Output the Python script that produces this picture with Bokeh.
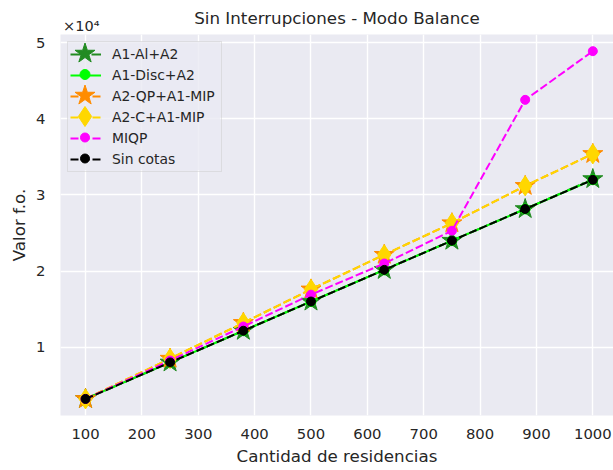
from bokeh.plotting import figure
from bokeh.models import Range1d, FixedTicker, LinearAxis
from bokeh.embed import file_html
from bokeh.resources import INLINE

# ---- data ----
n_res = [100, 250, 380, 500, 630, 750, 880, 1000]
a1_al_a2 = [3200, 8000, 12160, 16000, 20160, 24000, 28160, 32100]
a1_disc_a2 = [3200, 8000, 12160, 16000, 20160, 24000, 28160, 32000]
a2_qp_a1_mip = [3200, 8500, 13200, 17600, 22150, 26300, 31200, 35400]
a2_c_a1_mip = [3200, 8500, 13200, 17600, 22150, 26300, 31200, 35400]
miqp = [3200, 8250, 12720, 16900, 21000, 25300, 42500, 48900]
sin_cotas = [3200, 8000, 12160, 16000, 20160, 24000, 28160, 32000]

series_names = ["A1-Al+A2", "A1-Disc+A2", "A2-QP+A1-MIP", "A2-C+A1-MIP", "MIQP", "Sin cotas"]
series_values = [a1_al_a2, a1_disc_a2, a2_qp_a1_mip, a2_c_a1_mip, miqp, sin_cotas]

x_ticks = [100, 200, 300, 400, 500, 600, 700, 800, 900, 1000]
y_ticks = [10000, 20000, 30000, 40000, 50000]
y_tick_labels = ["1", "2", "3", "4", "5"]

title_text = "Sin Interrupciones - Modo Balance"
x_label = "Cantidad de residencias"
y_label = "Valor f.o."
offset_text = "\u00d710\u2074"

# ---- styles / layout ----
colors = ["#228B22", "#00FF00", "#FF8C00", "#FFD700", "#FF00FF", "#000000"]
dashes = ["13 3 2 3", "solid", "8 3", "8 3", "8 3", "8 3"]
markers = ["star", "circle", "star", "diamond", "circle", "circle"]
msizes = [21, 10, 21, 20, 9, 9]

TXT = "#262626"
FONT = "DejaVu Sans"
PLOT_BG = "#EAEAF2"
W, H = 613, 470
FRAME_L, FRAME_T, BORDER_B = 60, 34, 55
X0, X1 = 55.6, 1036.7
Y0, Y1 = 1025, 51090
OFFSET_TICK = 92.5  # where the x10^4 text is centred (x data units)

p = figure(width=W, height=H,
           x_range=Range1d(X0, X1), y_range=Range1d(Y0, Y1),
           output_backend="svg", toolbar_location=None,
           min_border_left=FRAME_L, min_border_right=0,
           min_border_top=FRAME_T, min_border_bottom=BORDER_B,
           background_fill_color=PLOT_BG, border_fill_color="white",
           outline_line_color=None)


def style_axis(ax):
    ax.axis_line_color = None
    ax.major_tick_line_color = None
    ax.minor_tick_line_color = None
    ax.major_tick_out = 0
    ax.major_tick_in = 0
    ax.major_label_text_font = FONT
    ax.major_label_text_font_size = "14.8px"
    ax.major_label_text_color = TXT
    ax.axis_label_text_font = FONT
    ax.axis_label_text_font_size = "16.7px"
    ax.axis_label_text_font_style = "normal"
    ax.axis_label_text_color = TXT


xa = p.xaxis[0]
style_axis(xa)
xa.ticker = FixedTicker(ticks=x_ticks)
xa.major_label_standoff = 13
xa.axis_label = x_label
xa.axis_label_standoff = 4

ya = p.yaxis[0]
style_axis(ya)
ya.ticker = FixedTicker(ticks=y_ticks)
ya.major_label_overrides = {t: l for t, l in zip(y_ticks, y_tick_labels)}
ya.major_label_standoff = 15
ya.axis_label = y_label
ya.axis_label_standoff = 4

# top axis: carries the x10^4 offset text (as a tick label) and the title
ta = LinearAxis(ticker=FixedTicker(ticks=[OFFSET_TICK]),
                major_label_overrides={OFFSET_TICK: offset_text})
style_axis(ta)
ta.major_label_text_font_size = "14.5px"
ta.major_label_standoff = 1
ta.axis_label = title_text
ta.axis_label_standoff = -13
p.add_layout(ta, "above")

p.xgrid.grid_line_color = "white"
p.ygrid.grid_line_color = "white"
p.xgrid.grid_line_width = 1.4
p.ygrid.grid_line_width = 1.4

# legend geometry (pixels)
LEG_MARGIN, LEG_PAD, GLYPH_W, ROW_H, ROW_GAP = 7, 2, 31, 20, 1
LABEL_STANDOFF, LABEL_W = 11, 107
n_items = len(series_names)
kx = (W - FRAME_L) / (X1 - X0)
ky = (H - FRAME_T - BORDER_B) / (Y1 - Y0)


def dx(px):
    return X0 + (px - FRAME_L) / kx


def dy(py):
    return Y1 - (py - FRAME_T) / ky


leg_l = FRAME_L + LEG_MARGIN
leg_t = FRAME_T + LEG_MARGIN
leg_w = 2 * LEG_PAD + GLYPH_W + LABEL_STANDOFF + LABEL_W
leg_h = 2 * LEG_PAD + n_items * ROW_H + (n_items - 1) * ROW_GAP

# legend background (drawn under the legend's samples and markers)
p.quad(left=[dx(leg_l)], right=[dx(leg_l + leg_w)], top=[dy(leg_t)], bottom=[dy(leg_t + leg_h)],
       fill_color=PLOT_BG, fill_alpha=0.8, line_color=None)

for name, vals, c, d, m, s in zip(series_names, series_values, colors, dashes, markers, msizes):
    p.line(n_res, vals, line_color=c, line_width=2, line_dash=d, legend_label=name)
    p.scatter(n_res, vals, marker=m, size=s, fill_color=c, line_color=c, line_width=1)

lg = p.legend[0]
lg.location = "top_left"
lg.margin = LEG_MARGIN
lg.padding = LEG_PAD
lg.spacing = ROW_GAP
lg.glyph_width = GLYPH_W
lg.glyph_height = ROW_H
lg.label_height = ROW_H
lg.label_width = LABEL_W
lg.label_standoff = LABEL_STANDOFF
lg.label_text_font = FONT
lg.label_text_font_size = "13.9px"
lg.label_text_color = TXT
lg.background_fill_alpha = 0
lg.border_line_color = "#CCCCCC"
lg.border_line_width = 1

# full-size markers for the legend samples
cx = leg_l + LEG_PAD + GLYPH_W / 2
for i, (c, m, s) in enumerate(zip(colors, markers, msizes)):
    cy = leg_t + LEG_PAD + ROW_H / 2 + i * (ROW_H + ROW_GAP)
    p.scatter([dx(cx)], [dy(cy)], marker=m, size=s,
              fill_color=c, line_color=c, line_width=1)

open("out.html", "w").write(file_html(p, INLINE))
